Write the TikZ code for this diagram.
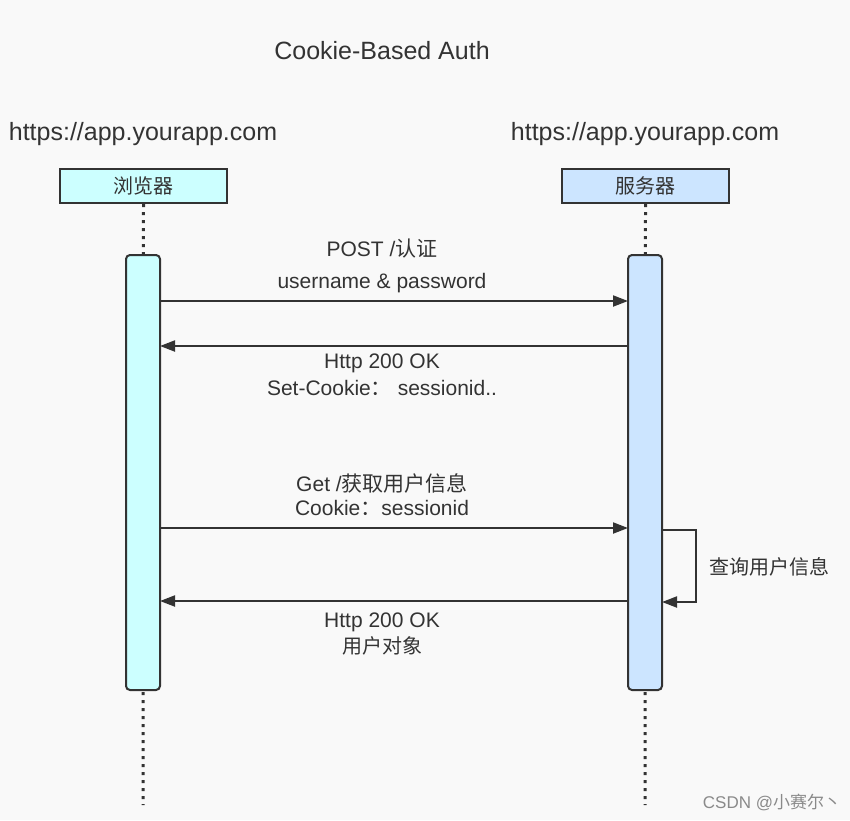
\documentclass[tikz,border=0pt]{standalone}
\usepackage{fontspec}
\setmainfont{Liberation Sans}
\newfontfamily\cjk{Noto Sans CJK SC}
\usetikzlibrary{arrows.meta}
\definecolor{ink}{HTML}{333333}
\definecolor{bg}{HTML}{F9F9F9}
\definecolor{cyanfill}{HTML}{CCFFFF}
\definecolor{bluefill}{HTML}{CCE5FF}
\definecolor{wm}{HTML}{8A8A8A}
\tikzset{
  actor/.style={draw=ink, line width=2pt, minimum width=167pt, minimum height=34pt, inner sep=0pt, font=\fontsize{20}{24}\selectfont\cjk, text=ink},
  act/.style={draw=ink, line width=2pt, rounded corners=4pt, minimum width=34pt, minimum height=435pt, inner sep=0pt},
  life/.style={draw=ink, line width=3pt, dash pattern=on 3pt off 5pt},
  msg/.style={draw=ink, line width=2pt, -{Triangle[length=15pt,width=11pt]}},
  lbl/.style={text=ink, font=\fontsize{21}{25}\selectfont, inner sep=0pt},
  zh/.style={text=ink, font=\fontsize{20}{24}\selectfont\cjk, inner sep=0pt},
  big/.style={text=ink, font=\fontsize{25}{30}\selectfont, inner sep=0pt}
}
\begin{document}
\begin{tikzpicture}[x=1pt,y=-1pt]
\fill[bg] (0,0) rectangle (850,820);
\useasboundingbox (0,0) rectangle (850,820);

\node[big] (title) at (382,51) {Cookie-Based Auth};
\node[big] (url1) at (143,134) {https://app.yourapp.com};
\node[big] (url2) at (645,134) {https://app.yourapp.com};

\node[actor, fill=cyanfill] (b) at (143.5,186) {浏览器};
\node[actor, fill=bluefill] (s) at (645.5,186) {服务器};

\coordinate (bend) at (143,805);
\coordinate (send) at (645,805);
\draw[life] (b.south) -- (bend);
\draw[life] (s.south) -- (send);

\node[act, fill=cyanfill] (ba) at (143,472.5) {};
\node[act, fill=bluefill] (sa) at (645,472.5) {};

% message 1
\coordinate (m1a) at (160,301);
\coordinate (m1b) at (628,301);
\draw[msg] (m1a) -- (m1b);
\node[lbl] (l1a) at (382,249) {POST /{\cjk 认证}};
\node[lbl] (l1b) at (382,283) {username \& password};

% message 2
\coordinate (m2a) at (628,346);
\coordinate (m2b) at (160,346);
\draw[msg] (m2a) -- (m2b);
\node[lbl] (l2a) at (382,363) {Http 200 OK};
\node[lbl] (l2b) at (382,388) {Set-Cookie{\cjk ：} sessionid..};

% message 3
\coordinate (m3a) at (160,528);
\coordinate (m3b) at (628,528);
\draw[msg] (m3a) -- (m3b);
\node[lbl] (l3a) at (382,483) {Get /{\cjk 获取用户信息}};
\node[lbl] (l3b) at (382,508) {Cookie{\cjk ：}sessionid};

% self message
\coordinate (sm1) at (662,530);
\coordinate (sm2) at (696,530);
\coordinate (sm3) at (696,602);
\coordinate (sm4) at (662,602);
\draw[msg] (sm1) -- (sm2) -- (sm3) -- (sm4);
\node[zh] (l5) at (769,567) {查询用户信息};

% message 4
\coordinate (m4a) at (628,601);
\coordinate (m4b) at (160,601);
\draw[msg] (m4a) -- (m4b);
\node[lbl] (l4a) at (382,622) {Http 200 OK};
\node[zh] (l4b) at (382,646) {用户对象};

\node[text=wm, font=\fontsize{17}{20}\selectfont, inner sep=0pt] (wm) at (772,802) {CSDN @{\cjk 小赛尔丶}};
\end{tikzpicture}
\end{document}
